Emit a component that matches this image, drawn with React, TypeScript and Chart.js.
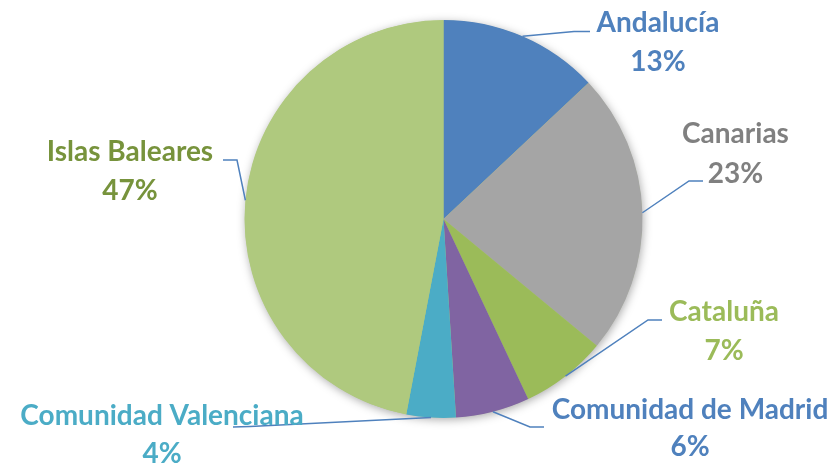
import React, { useEffect, useRef } from "react";
import { Chart, registerables } from "chart.js";

Chart.register(...registerables);

const regions = ["Andalucía", "Canarias", "Cataluña", "Comunidad de Madrid", "Comunidad Valenciana", "Islas Baleares"];
const shares = [13, 23, 7, 6, 4, 47];
const percentLabels = ["13%", "23%", "7%", "6%", "4%", "47%"];

const sliceColors = ["#4F81BD", "#A5A5A5", "#9BBB59", "#8064A2", "#4BACC6", "#AFC97E"];
const textColors = ["#4F81BD", "#808080", "#9BBB59", "#4F81BD", "#4BACC6", "#77933C"];

// label layout: center x, first baseline, second baseline, leader elbow, leader end
const labelLayout = [
  { cx: 658, y1: 32, y2: 71, elbow: [574, 31.5], end: [590, 31.5] },
  { cx: 735.5, y1: 143, y2: 182.5, elbow: [689, 181], end: [703, 181] },
  { cx: 724, y1: 320.5, y2: 359.5, elbow: [648, 320], end: [662, 320] },
  { cx: 690, y1: 419, y2: 456, elbow: [530, 427], end: [544, 427] },
  { cx: 162, y1: 425, y2: 463, elbow: [250, 426.5], end: [233, 427] },
  { cx: 130, y1: 160.5, y2: 199.5, elbow: [237, 160], end: [223, 160] },
];

const FONT = "bold 28px Lato, 'Open Sans', sans-serif";

const shadowPlugin = {
  id: "pieShadow",
  beforeDatasetsDraw(chart: any) {
    const meta = chart.getDatasetMeta(0);
    const arc = meta.data[0];
    if (!arc) return;
    const { x, y, outerRadius } = arc.getProps(["x", "y", "outerRadius"], true);
    const ctx = chart.ctx;
    ctx.save();
    ctx.shadowColor = "rgba(0,0,0,0.35)";
    ctx.shadowBlur = 10;
    ctx.shadowOffsetX = 1;
    ctx.shadowOffsetY = 2;
    ctx.fillStyle = "#AFC97E";
    ctx.beginPath();
    ctx.arc(x, y, outerRadius - 0.5, 0, Math.PI * 2);
    ctx.fill();
    ctx.restore();
  },
};

const labelPlugin = {
  id: "pieLabels",
  afterDatasetsDraw(chart: any) {
    const ctx = chart.ctx;
    const meta = chart.getDatasetMeta(0);
    meta.data.forEach((arc: any, i: number) => {
      const { x, y, startAngle, endAngle, outerRadius } = arc.getProps(
        ["x", "y", "startAngle", "endAngle", "outerRadius"],
        true
      );
      const mid = (startAngle + endAngle) / 2;
      const sx = x + Math.cos(mid) * outerRadius;
      const sy = y + Math.sin(mid) * outerRadius;
      const L = labelLayout[i];
      ctx.save();
      ctx.strokeStyle = "#4F81BD";
      ctx.lineWidth = 1.5;
      ctx.beginPath();
      ctx.moveTo(sx, sy);
      ctx.lineTo(L.elbow[0], L.elbow[1]);
      ctx.lineTo(L.end[0], L.end[1]);
      ctx.stroke();
      ctx.font = FONT;
      ctx.fillStyle = textColors[i];
      ctx.textAlign = "center";
      ctx.textBaseline = "alphabetic";
      ctx.fillText(regions[i], L.cx, L.y1);
      ctx.fillText(percentLabels[i], L.cx, L.y2);
      ctx.restore();
    });
  },
};

export default function App() {
  const canvasRef = useRef<HTMLCanvasElement | null>(null);

  useEffect(() => {
    if (!canvasRef.current) return;
    const chart = new Chart(canvasRef.current, {
      type: "pie",
      data: {
        labels: regions,
        datasets: [
          {
            data: shares,
            backgroundColor: sliceColors,
            borderWidth: 0,
          },
        ],
      },
      options: {
        animation: false,
        responsive: false,
        maintainAspectRatio: false,
        layout: { padding: { left: 244.5, right: 185.5, top: 20, bottom: 48 } },
        plugins: {
          legend: { display: false },
          tooltip: { enabled: false },
        },
      },
      plugins: [shadowPlugin, labelPlugin],
    });
    return () => chart.destroy();
  }, []);

  return (
    <div style={{ position: "fixed", left: 0, top: 0, width: 828, height: 466, background: "#fff" }}>
      <canvas ref={canvasRef} width={828} height={466} style={{ width: 828, height: 466 }} />
    </div>
  );
}
